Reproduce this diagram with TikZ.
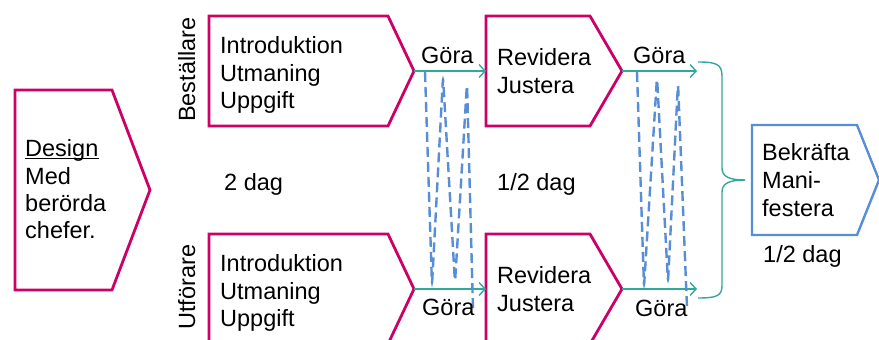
\documentclass[tikz,border=0pt]{standalone}
\usepackage{fontspec}
\setmainfont{Liberation Sans}
\usetikzlibrary{arrows.meta}
\definecolor{mag}{RGB}{204,0,102}
\definecolor{bl}{RGB}{88,142,214}
\definecolor{tl}{RGB}{48,168,158}
\begin{document}
\begin{tikzpicture}[x=1pt,y=-1pt,
  box/.style={draw=mag,line width=2.8pt,line join=miter},
  bbox/.style={draw=bl,line width=2.4pt,line join=miter},
  txt/.style={anchor=base west,inner sep=0pt,font=\fontsize{23.5}{28}\selectfont},
  conn/.style={draw=tl,line width=1.4pt,-{Straight Barb[length=6pt,width=13pt,line width=1.4pt]}},
  loop/.style={draw=bl,line width=2.4pt,dash pattern=on 10pt off 5pt,rounded corners=5pt},
  brace/.style={draw=tl,line width=1.4pt}]
\clip (0,0) rectangle (879,340);
\fill[white] (0,0) rectangle (879,340);
% shapes
\draw[box] (15,90) -- (112,90) -- (150,190) -- (112,290) -- (15,290) -- cycle;
\draw[box] (209,16) -- (388,16) -- (414,71) -- (388,126) -- (209,126) -- cycle;
\draw[box] (209,234) -- (388,234) -- (414,289) -- (388,344) -- (209,344) -- cycle;
\draw[box] (486,16) -- (590,16) -- (622,71) -- (590,126) -- (486,126) -- cycle;
\draw[box] (486,234) -- (590,234) -- (622,289) -- (590,344) -- (486,344) -- cycle;
\draw[bbox] (752,125) -- (857,125) -- (879,180) -- (857,235) -- (752,235) -- cycle;
% named points
\coordinate (t1tip) at (414,71);
\coordinate (b1tip) at (414,289);
\coordinate (r1left) at (486,71);
\coordinate (r2left) at (486,289);
\coordinate (r1tip) at (622,71);
\coordinate (r2tip) at (622,289);
\coordinate (e1) at (697,71);
\coordinate (e2) at (697,289);
% connectors
\draw[conn] (t1tip) -- (r1left);
\draw[conn] (b1tip) -- (r2left);
\draw[conn] (r1tip) -- (e1);
\draw[conn] (r2tip) -- (e2);
% dashed loops
\draw[loop] (425,72) -- (432,285) -- (443,77) -- (455,283) -- (467,83) -- (473,310);
\draw[loop] (637,72) -- (644,287) -- (657,77) -- (668,282) -- (678,83) -- (687,308);
% brace
\draw[brace] (698,62) .. controls (716,62) and (722,64) .. (722,76) -- (722,168) .. controls (722,177) and (730,180) .. (745,180);
\draw[brace] (745,180) .. controls (730,180) and (722,183) .. (722,192) -- (722,286) .. controls (722,296) and (716,298) .. (698,298);
% texts
\node[txt] (d1) at (25,156) {Design};
\draw[line width=1pt] ([yshift=-2.5pt]d1.base west) -- ([yshift=-2.5pt]d1.base east);
\node[txt] (d2) at (25,184) {Med};
\node[txt] (d3) at (25,211) {berörda};
\node[txt] (d4) at (25,238) {chefer.};
\node[txt,rotate=90] (best) at (195,122) {Beställare};
\node[txt,rotate=90] (utf) at (195,330) {Utförare};
\node[txt] (a1) at (220,53) {Introduktion};
\node[txt] (a2) at (220,81) {Utmaning};
\node[txt] (a3) at (220,108) {Uppgift};
\node[txt] (b1) at (220,271) {Introduktion};
\node[txt] (b2) at (220,299) {Utmaning};
\node[txt] (b3) at (220,326) {Uppgift};
\node[txt] (c1) at (497,65) {Revidera};
\node[txt] (c2) at (497,93) {Justera};
\node[txt] (c3) at (497,283) {Revidera};
\node[txt] (c4) at (497,311) {Justera};
\node[txt] (k1) at (762,160) {Bekräfta};
\node[txt] (k2) at (762,188) {Mani-};
\node[txt] (k3) at (762,216) {festera};
\node[txt] (g1) at (421,63) {Göra};
\node[txt] (g2) at (633,63) {Göra};
\node[txt] (g3) at (422,315) {Göra};
\node[txt] (g4) at (635,316) {Göra};
\node[txt] (s1) at (224,190) {2 dag};
\node[txt] (s2) at (497,190) {1/2 dag};
\node[txt] (s3) at (763,262) {1/2 dag};
\end{tikzpicture}
\end{document}
